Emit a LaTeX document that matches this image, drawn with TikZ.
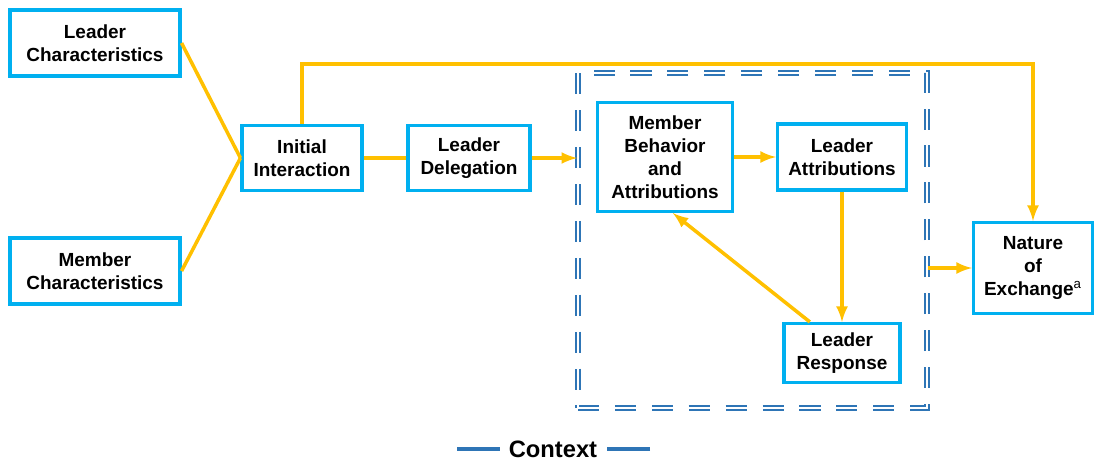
\documentclass[tikz,border=0pt]{standalone}
\usepackage{fontspec}
\setmainfont{Liberation Sans}
\usetikzlibrary{positioning}
\definecolor{boxcyan}{HTML}{00B0F0}
\definecolor{linkgold}{HTML}{FFC000}
\definecolor{ctxblue}{HTML}{2E75B6}
\tikzset{
	block/.style   = {draw=boxcyan, line width=1.8pt, fill=white, rectangle, align=center, inner sep=2pt, font=\bfseries\fontsize{10.8}{13.2}\selectfont},
	ctxframe/.style = {draw=ctxblue, line width=1.1pt, double=white, double distance=1.2pt, dash pattern=on 12pt off 9pt, rectangle, minimum width=6.98cm, minimum height=6.7cm},
	label/.style   = {font=\bfseries\fontsize{13.5}{16}\selectfont},
	link/.style    = {draw=linkgold, line width=2pt},
	ctxline/.style = {draw=ctxblue, line width=2pt},
	hidden/.style  = {coordinate},
}

\begin{document}
\begin{tikzpicture}[x=0.02cm, y=-0.02cm, >=latex]
	\useasboundingbox (0,0) rectangle (1101,461);

	% Draw the context frame first, the boxes sit on top of it
	\node[ctxframe] (frame) at (752.5,240.5) {};

	% Draw the main nodes
	\node[block, minimum width=3.4cm,  minimum height=1.32cm] (lchar)  at (95,43)   {Leader\\Characteristics};
	\node[block, minimum width=3.4cm,  minimum height=1.32cm] (mchar)  at (95,271)  {Member\\Characteristics};
	\node[block, minimum width=2.4cm,  minimum height=1.3cm]  (init)   at (302,158) {Initial\\Interaction};
	\node[block, minimum width=2.44cm, minimum height=1.3cm]  (deleg)  at (469,158) {Leader\\Delegation};
	\node[block, minimum width=2.7cm,  minimum height=2.18cm] (memb)   at (665,157) {Member\\Behavior\\and\\Attributions};
	\node[block, minimum width=2.58cm, minimum height=1.32cm] (attr)   at (842,157) {Leader\\Attributions};
	\node[block, minimum width=2.32cm, minimum height=1.18cm] (resp)   at (842,353) {Leader\\Response};
	\node[block, minimum width=2.38cm, minimum height=1.82cm] (nature) at (1033,268) {Nature\\of\\Exchange\textsuperscript{\mdseries a}};
	\node[label] (context) at (553,449) {Context};
	\node[hidden] (ctxleft) at (457,449) {};
	\node[hidden] (ctxright) at (650,449) {};
	\node[hidden] (loop) at (1033,64) {};

	% Connect everything together
	\draw[link] (lchar.east) -- (init.west);
	\draw[link] (mchar.east) -- (init.west);
	\draw[link] (init) -- (deleg);
	\draw[link, ->] (deleg.east) -- (deleg.east -| frame.west);
	\draw[link, ->] (memb.east |- attr) -- (attr);
	\draw[link, ->] (attr.south) -- (attr.south |- resp.north);
	\draw[link, ->] (resp.136) -- (memb.-82);
	\draw[link, ->] (frame.east |- nature.west) -- (nature.west);
	\draw[link, ->] (init.north) |- (loop) -- (nature.north);

	% Context legend
	\draw[ctxline] (ctxleft) -- ++(43,0);
	\draw[ctxline] (ctxright) -- ++(-43,0);
\end{tikzpicture}
\end{document}
